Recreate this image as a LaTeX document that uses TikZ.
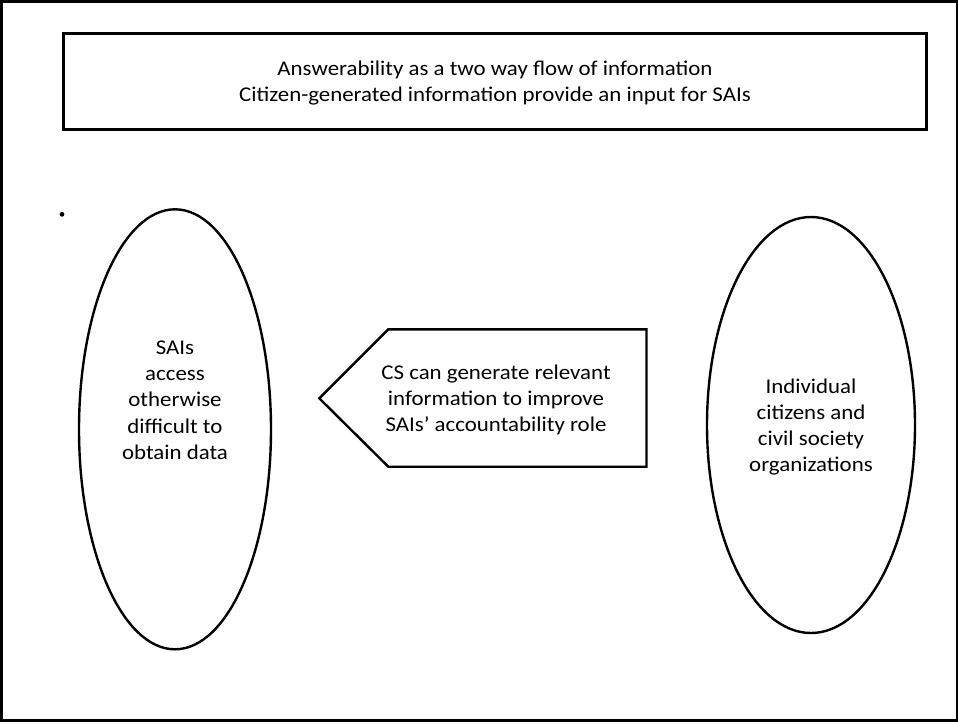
\documentclass[tikz,border=0pt]{standalone}
\usepackage{fontspec}
\setmainfont{Carlito}[FakeStretch=1.09]
\usetikzlibrary{shapes.geometric}
\begin{document}
\begin{tikzpicture}[x=1pt,y=-1pt,line width=2.4pt,
  lbl/.style={align=center,font=\fontsize{21}{26.3}\selectfont,inner sep=0pt},
  oval/.style={draw,ellipse,inner sep=0pt}]
\useasboundingbox (0,0) rectangle (958,724);
\draw[line join=miter] (1.3,1.3) rectangle (956.8,720.3);
\node[draw,minimum width=863pt,minimum height=96pt,inner sep=0pt] (title) at (495,81.5) {};
\node[lbl] (titletext) at (495,83) {Answerability as a two way flow of information\\Citizen-generated information provide an input for SAIs};
\fill (62,214.3) circle (2.4pt);
\node[oval,minimum width=192pt,minimum height=440pt] (sai) at (175,429.3) {};
\node[lbl] (saitext) at (175,400) {SAIs\\access\\otherwise\\difficult to\\obtain data};
\node[oval,minimum width=208pt,minimum height=416pt] (cit) at (811,425) {};
\node[lbl] (cittext) at (811,427) {Individual\\citizens and\\civil society\\organizations};
\coordinate (tip) at (319.3,398.3);
\coordinate (tl) at (388.3,329.3);
\coordinate (tr) at (646.5,329.3);
\coordinate (br) at (646.5,466.7);
\coordinate (bl) at (388.3,466.7);
\draw[line join=miter] (tip) -- (tl) -- (tr) -- (br) -- (bl) -- cycle;
\node[lbl] (cstext) at (496,400) {CS can generate relevant\\information to improve\\SAIs’ accountability role};
\end{tikzpicture}
\end{document}
